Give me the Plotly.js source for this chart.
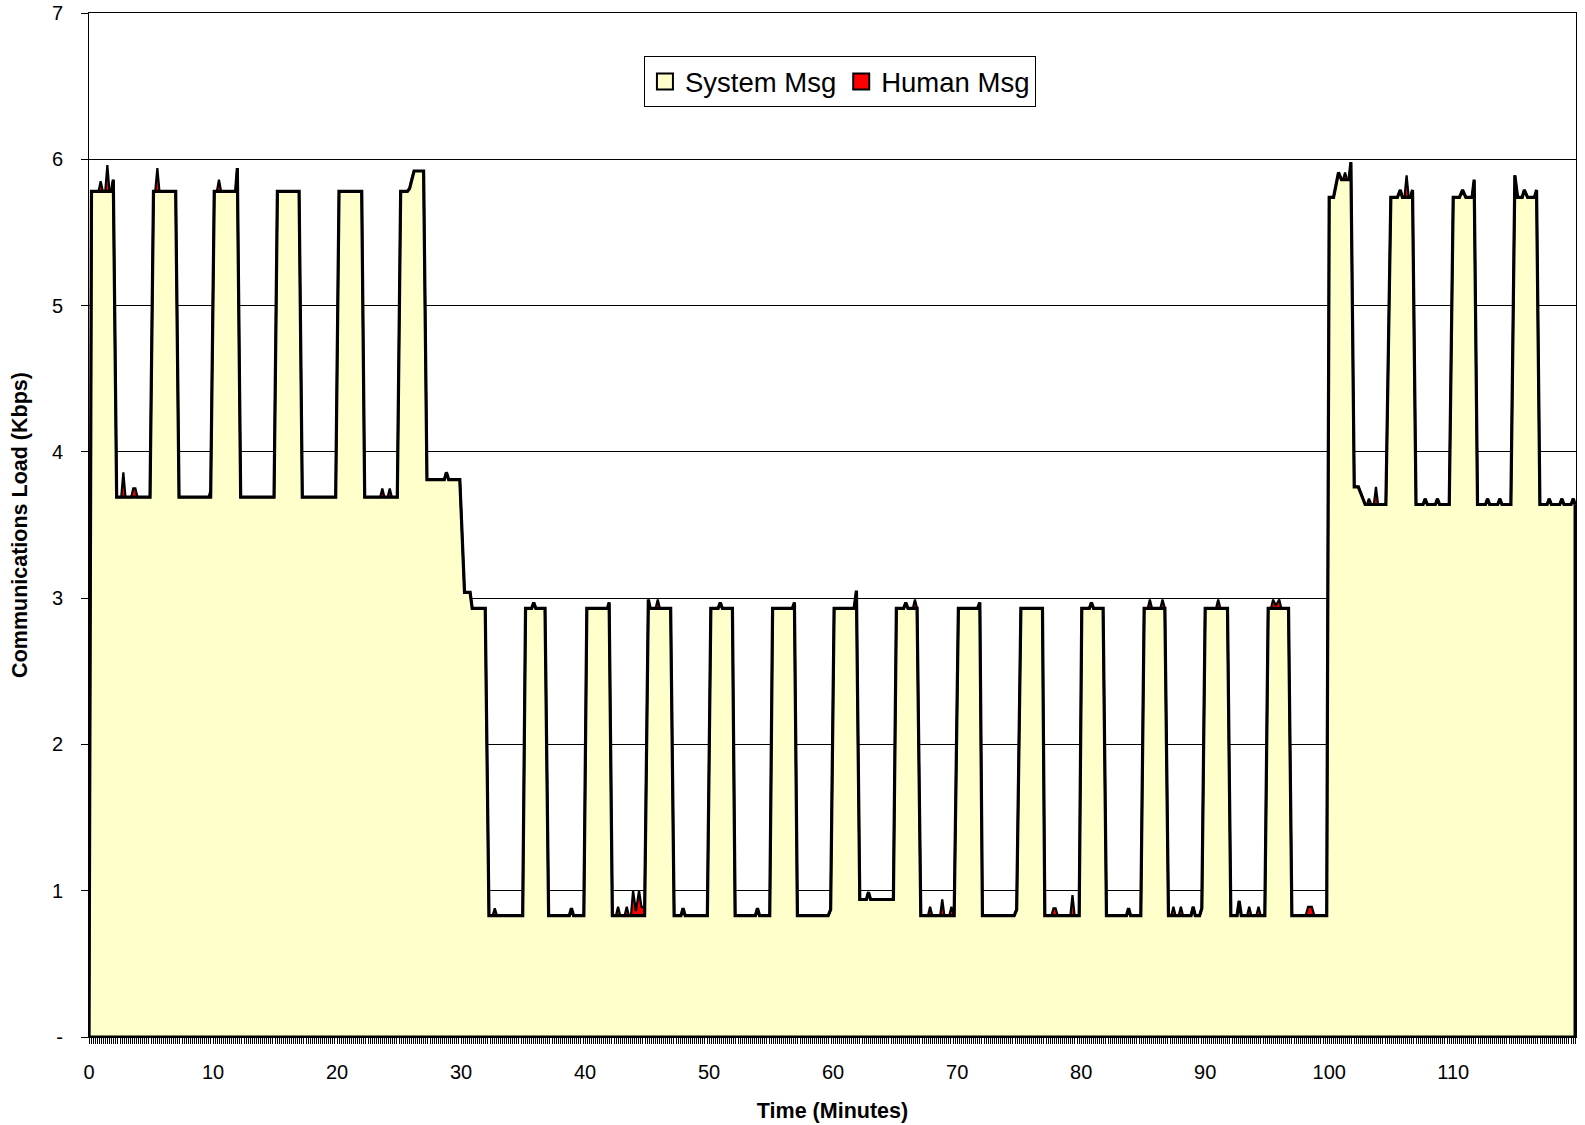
<!DOCTYPE html>
<html>
<head>
<meta charset="utf-8">
<script src="https://cdn.plot.ly/plotly-3.0.1.min.js"></script>
<style>html,body{margin:0;padding:0;background:#fff}#chart{width:1585px;height:1125px}</style>
</head>
<body>
<div id="chart"></div>
<script>
// Time of each sample (minutes)
const timeMin = [
  0, 0.2, 0.77, 0.94, 1.12, 1.31, 1.48, 1.65, 1.8, 1.96, 2.23, 2.6, 2.77, 2.94, 3.4, 3.57, 3.74, 3.91, 4.92,
  5.2, 5.34, 5.51, 5.68, 6.99, 7.26, 9.64, 9.81, 10.1, 10.31, 10.48, 10.65, 11.82, 11.96, 12.23, 14.92,
  15.19, 16.94, 17.2, 19.89, 20.16, 21.99, 22.23, 23.48, 23.65, 23.82, 24.08, 24.25, 24.42, 24.86,
  25.13, 25.67, 25.85, 26.03, 26.21, 26.98, 27.25, 28.65, 28.82, 29.0, 29.9, 30.28, 30.73, 30.9, 31.95,
  32.25, 32.55, 32.72, 32.89, 34.97, 35.2, 35.69, 35.86, 36.03, 36.77, 37.06, 38.73, 38.9, 39.07, 39.9,
  40.14, 41.8, 41.94, 42.2, 42.49, 42.66, 42.83, 43.19, 43.36, 43.53, 43.7, 43.87, 44.1, 44.35, 44.55, 44.8,
  45.1, 45.25, 45.69, 45.86, 46.03, 46.9, 47.18, 47.73, 47.9, 48.07, 49.86,
  50.14, 50.73, 50.9, 51.07, 51.88, 52.1, 53.73, 53.9, 54.07, 54.89,
  55.12, 56.72, 56.88, 57.12, 59.6, 59.8, 60.08, 61.69, 61.88, 62.15, 62.68, 62.85, 63.02, 64.86,
  65.1, 65.69, 65.86, 66.03, 66.43, 66.6, 66.77, 67.07, 67.65, 67.82, 67.99, 68.63, 68.8, 68.97, 69.37, 69.54, 69.76,
  70.1, 71.64, 71.83, 72.04, 74.6, 74.8, 75.14, 76.88, 77.07, 77.6, 77.77, 77.94, 78.11, 79.13, 79.3, 79.47, 79.84,
  80.05, 80.66, 80.83, 81.0, 81.77, 82.04, 83.65, 83.82, 83.99, 84.81,
  85.08, 85.37, 85.54, 85.71, 86.39, 86.56, 86.75, 87.04, 87.27, 87.44, 87.61, 87.87, 88.04, 88.21, 88.86, 89.03, 89.2, 89.55, 89.73,
  90.0, 90.88, 91.05, 91.22, 91.8, 92.07, 92.57, 92.74, 92.91, 93.38, 93.55, 93.72, 94.13, 94.3, 94.47, 94.81,
  95.08, 95.31, 95.48, 95.7, 95.97, 96.14, 96.72, 96.99, 98.1, 98.3, 98.6, 98.8, 99.8,
  100.0, 100.35, 100.75, 100.99, 101.11, 101.28, 101.45, 101.6, 101.75, 102.02, 102.35, 102.6, 102.9, 103.05, 103.2, 103.4, 103.6, 103.77, 103.94, 104.57,
  104.97, 105.5, 105.73, 105.9, 106.07, 106.24, 106.41, 106.55, 106.72, 107.0, 107.57, 107.74, 107.91, 108.56, 108.73, 108.9, 109.68,
  110.0, 110.5, 110.75, 111.02, 111.52, 111.69, 111.96, 112.6, 112.77, 112.94, 113.59, 113.76, 113.93, 114.65,
  114.97, 115.19, 115.56, 115.73, 116.0, 116.55, 116.72, 116.99, 117.57, 117.74, 117.91, 118.59, 118.76, 118.93, 119.5, 119.68, 119.83
];

// System message load (Kbps)
const systemKbps = [
  0, 5.78, 5.78, 5.78, 5.78, 5.78, 5.78, 5.78, 5.78, 5.86, 3.69, 3.69, 3.69, 3.69, 3.69, 3.69, 3.69, 3.69, 3.69,
  5.78, 5.78, 5.78, 5.78, 5.78, 3.69, 3.69, 3.69, 5.78, 5.78, 5.78, 5.78, 5.78, 5.94, 3.69, 3.69,
  5.78, 5.78, 3.69, 3.69, 5.78, 5.78, 3.69, 3.69, 3.69, 3.69, 3.69, 3.69, 3.69, 3.69,
  5.78, 5.78, 5.80, 5.87, 5.92, 5.92, 3.81, 3.81, 3.86, 3.81, 3.81, 3.04, 3.04, 2.93, 2.93,
  0.83, 0.83, 0.83, 0.83, 0.83, 2.93, 2.93, 2.97, 2.93, 2.93, 0.83, 0.83, 0.88, 0.83, 0.83,
  2.93, 2.93, 2.97, 0.83, 0.83, 0.83, 0.83, 0.83, 0.83, 0.83, 0.83, 0.83, 0.83, 0.83, 0.83, 0.83,
  2.99, 2.93, 2.93, 2.93, 2.93, 2.93, 0.83, 0.83, 0.88, 0.83, 0.83,
  2.93, 2.93, 2.97, 2.93, 2.93, 0.83, 0.83, 0.88, 0.83, 0.83,
  2.93, 2.93, 2.97, 0.83, 0.83, 0.87, 2.93, 2.93, 3.05, 0.94, 0.94, 0.99, 0.94, 0.94,
  2.93, 2.93, 2.97, 2.93, 2.93, 2.93, 2.93, 0.83, 0.83, 0.83, 0.83, 0.83, 0.83, 0.83, 0.83, 0.83, 0.83,
  2.93, 2.93, 2.97, 0.83, 0.83, 0.87, 2.93, 2.93, 0.83, 0.83, 0.83, 0.83, 0.83, 0.83, 0.83, 0.83, 0.83,
  2.93, 2.93, 2.97, 2.93, 2.93, 0.83, 0.83, 0.88, 0.83, 0.83,
  2.93, 2.93, 2.93, 2.93, 2.93, 2.93, 2.93, 0.83, 0.83, 0.83, 0.83, 0.83, 0.83, 0.83, 0.83, 0.89, 0.83, 0.83, 0.88,
  2.93, 2.93, 2.93, 2.93, 2.93, 0.83, 0.83, 0.93, 0.83, 0.83, 0.83, 0.83, 0.83, 0.83, 0.83, 0.83,
  2.93, 2.93, 2.93, 2.93, 2.93, 2.93, 2.93, 0.83, 0.83, 0.83, 0.83, 0.83, 0.83,
  5.74, 5.74, 5.91, 5.86, 5.86, 5.86, 5.86, 5.86, 5.98, 3.76, 3.76, 3.70, 3.64, 3.64, 3.64, 3.64, 3.64, 3.64, 3.64, 3.64,
  5.74, 5.74, 5.79, 5.74, 5.74, 5.74, 5.74, 5.74, 5.79, 3.64, 3.64, 3.68, 3.64, 3.64, 3.68, 3.64, 3.64,
  5.74, 5.74, 5.79, 5.74, 5.74, 5.86, 3.64, 3.64, 3.68, 3.64, 3.64, 3.68, 3.64, 3.64,
  5.89, 5.74, 5.74, 5.79, 5.74, 5.74, 5.79, 3.64, 3.64, 3.68, 3.64, 3.64, 3.68, 3.64, 3.64, 3.68, 3.64
];

// Human message load (Kbps), stacked on top of system load
const humanKbps = [
  0, 0, 0, 0.07, 0, 0, 0.18, 0, 0, 0, 0, 0, 0.17, 0, 0, 0.06, 0.06, 0, 0,
  0, 0, 0.16, 0, 0, 0, 0, 0.05, 0, 0, 0.08, 0, 0, 0, 0, 0,
  0, 0, 0, 0, 0, 0, 0, 0, 0.06, 0, 0, 0.06, 0, 0,
  0, 0, 0, 0, 0, 0, 0, 0, 0, 0, 0, 0, 0, 0, 0,
  0, 0, 0.05, 0, 0, 0, 0, 0, 0, 0, 0, 0, 0, 0, 0,
  0, 0, 0, 0, 0, 0.06, 0, 0, 0.06, 0, 0, 0.17, 0.03, 0.17, 0.06, 0.05,
  0, 0, 0, 0.06, 0, 0, 0, 0, 0, 0, 0,
  0, 0, 0, 0, 0, 0, 0, 0, 0, 0,
  0, 0, 0, 0, 0, 0, 0, 0, 0, 0, 0, 0, 0, 0,
  0, 0, 0, 0, 0, 0.06, 0, 0, 0, 0.06, 0, 0, 0.11, 0, 0, 0.06, 0,
  0, 0, 0, 0, 0, 0, 0, 0, 0, 0, 0.05, 0.05, 0, 0, 0.14, 0, 0,
  0, 0, 0, 0, 0, 0, 0, 0, 0, 0,
  0, 0, 0.06, 0, 0, 0.06, 0, 0, 0, 0.06, 0, 0, 0.06, 0, 0, 0, 0, 0, 0,
  0, 0, 0.06, 0, 0, 0, 0, 0, 0, 0, 0.06, 0, 0, 0.06, 0, 0,
  0, 0, 0.06, 0.02, 0.06, 0, 0, 0, 0, 0.06, 0.06, 0, 0,
  0, 0, 0, 0, 0, 0.05, 0, 0, 0, 0, 0, 0, 0, 0, 0.04, 0, 0, 0.12, 0, 0,
  0, 0, 0, 0, 0, 0.15, 0, 0, 0, 0, 0, 0, 0, 0, 0, 0, 0,
  0, 0, 0, 0, 0, 0, 0, 0, 0, 0, 0, 0, 0, 0,
  0, 0, 0, 0, 0, 0, 0, 0, 0, 0, 0, 0, 0, 0, 0, 0, 0
];

const seriesNames = ['System Msg', 'Human Msg'];
const seriesColors = ['#FFFFCC', '#FF0000'];
const xTickVals = [0, 10, 20, 30, 40, 50, 60, 70, 80, 90, 100, 110];
const yTickVals = [0, 1, 2, 3, 4, 5, 6, 7];
const yTickText = ['-', '1', '2', '3', '4', '5', '6', '7'];

const last = timeMin.length - 1;
const endTime = timeMin[last];
const endTotal = systemKbps[last] + humanKbps[last];

const traces = [
  {
    x: timeMin, y: systemKbps, name: seriesNames[0], type: 'scatter', mode: 'lines',
    stackgroup: 'load', fillcolor: seriesColors[0],
    line: {color: '#000', width: 3.2}, showlegend: false, hoverinfo: 'x+y'
  },
  {
    x: timeMin, y: humanKbps, name: seriesNames[1], type: 'scatter', mode: 'lines',
    stackgroup: 'load', fillcolor: seriesColors[1],
    line: {color: '#000', width: 2.2}, showlegend: false, hoverinfo: 'x+y'
  },
  {
    x: [0, endTime, endTime], y: [0, 0, endTotal], type: 'scatter', mode: 'lines',
    line: {color: '#000', width: 3.2}, showlegend: false, hoverinfo: 'skip'
  },
  {
    x: [null], y: [null], name: seriesNames[0], type: 'scatter', mode: 'markers',
    marker: {symbol: 'square', size: 17, color: seriesColors[0], line: {color: '#000', width: 2}}
  },
  {
    x: [null], y: [null], name: seriesNames[1], type: 'scatter', mode: 'markers',
    marker: {symbol: 'square', size: 17, color: seriesColors[1], line: {color: '#000', width: 2}}
  }
];

const layout = {
  width: 1585, height: 1125,
  margin: {l: 89, r: 9, t: 13, b: 88, pad: 0},
  paper_bgcolor: '#fff', plot_bgcolor: '#fff',
  font: {family: '"Liberation Sans", Arial, sans-serif', color: '#000', size: 20},
  showlegend: true,
  xaxis: {
    range: [0, 119.9], tickvals: xTickVals, ticks: 'outside', ticklen: 6, tickcolor: '#000', tickwidth: 1,
    showgrid: false, zeroline: false, showline: true, linecolor: '#000', linewidth: 1, mirror: true,
    tickfont: {size: 20}, ticklabelstandoff: 11,
    minor: {dtick: 1/6, tick0: 0, ticks: 'outside', ticklen: 6, tickcolor: '#000', tickwidth: 1, showgrid: false},
    title: {text: 'Time (Minutes)', font: {size: 21.5, weight: 'bold'}, standoff: 20},
    automargin: false
  },
  yaxis: {
    range: [0, 7], tickvals: yTickVals, ticktext: yTickText, ticks: 'outside', ticklen: 7, tickcolor: '#000',
    showgrid: true, gridcolor: '#000', gridwidth: 1, zeroline: false,
    showline: true, linecolor: '#000', linewidth: 1, mirror: true,
    tickfont: {size: 20}, ticklabelstandoff: 14,
    title: {text: 'Communications Load (Kbps)', font: {size: 21.5, weight: 'bold'}, standoff: 18},
    automargin: false
  },
  legend: {
    orientation: 'h', traceorder: 'normal', x: 0.505, xanchor: 'center', y: 0.958, yanchor: 'top',
    bordercolor: '#000', borderwidth: 1, bgcolor: '#fff', font: {size: 27.5},
    itemwidth: 30
  }
};

Plotly.newPlot('chart', traces, layout, {displayModeBar: false, staticPlot: true});
</script>
</body>
</html>
